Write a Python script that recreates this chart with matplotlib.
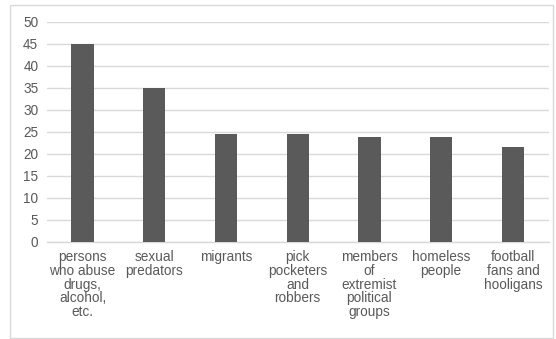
import matplotlib
matplotlib.use("Agg")
import matplotlib.pyplot as plt
from matplotlib.patches import Rectangle

# categories (already wrapped the way the original chart shows them)
CATEGORIES = [
    "persons\nwho abuse\ndrugs,\nalcohol,\netc.",
    "sexual\npredators",
    "migrants",
    "pick\npocketers\nand\nrobbers",
    "members\nof\nextremist\npolitical\ngroups",
    "homeless\npeople",
    "football\nfans and\nhooligans",
]
VALUES = [44.9, 35.0, 24.5, 24.5, 23.9, 23.7, 21.6]
Y_TICKS = list(range(0, 55, 5))

TEXT = "#595959"
GRID = "#d9d9d9"
BAR = "#5a5a5a"

plt.rcParams["font.family"] = ["Liberation Sans", "DejaVu Sans"]

fig = plt.figure(figsize=(5.56, 3.39), dpi=100)
ax = fig.add_axes([0.084, 0.287, 0.903, 0.649])

x = list(range(len(CATEGORIES)))
ax.bar(x, VALUES, width=0.31, color=BAR, zorder=3)

ax.set_xlim(-0.5, len(CATEGORIES) - 0.5)
ax.set_ylim(0, 50)
ax.set_yticks(Y_TICKS)
ax.set_xticks(x)
ax.set_xticklabels(CATEGORIES, linespacing=0.98)
ax.tick_params(axis="both", length=0, labelsize=9.8, colors=TEXT)
ax.tick_params(axis="x", pad=6)
ax.tick_params(axis="y", pad=6)

ax.grid(axis="y", color=GRID, linewidth=1, zorder=0)
for s in ["top", "right", "left"]:
    ax.spines[s].set_visible(False)
ax.spines["bottom"].set_color(GRID)
ax.spines["bottom"].set_linewidth(1)

# outer chart border
fig.patches.append(Rectangle((10 / 556, 1 / 339), 543 / 556, 333 / 339,
                             transform=fig.transFigure, fill=False,
                             edgecolor=GRID, linewidth=1))

fig.savefig("out.png", dpi=100)
